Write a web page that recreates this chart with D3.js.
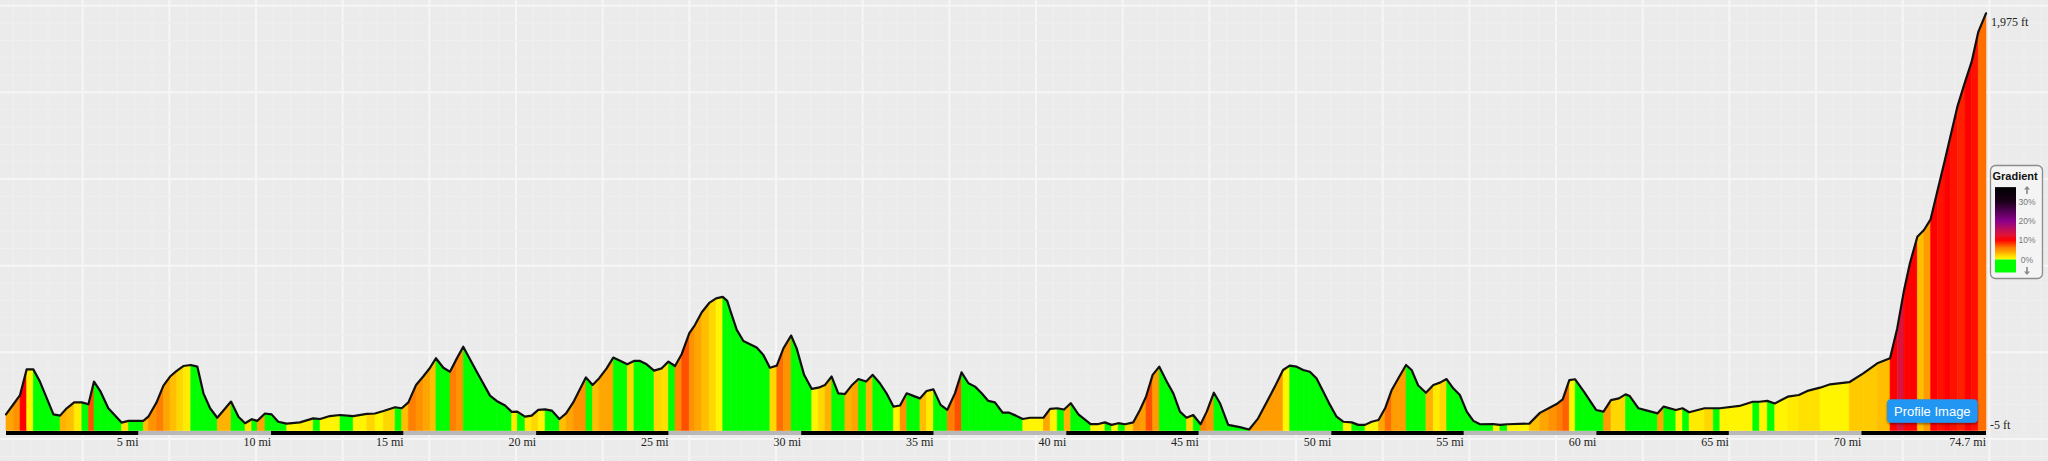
<!DOCTYPE html>
<html><head><meta charset="utf-8">
<script src="https://cdn.jsdelivr.net/npm/d3@7"></script>
<style>html,body{margin:0;padding:0;background:#ebebeb;overflow:hidden}</style>
</head><body>
<svg id="c" width="2048" height="461"></svg>
<script>
// distance along route (miles)
const miles = [
0.00,0.28,0.53,0.78,1.03,1.28,1.79,2.04,2.29,2.57,
2.86,3.11,3.32,3.57,3.86,4.36,4.62,5.18,5.37,5.68,
5.94,6.19,6.44,6.69,6.97,7.22,7.45,7.70,7.97,8.49,
8.77,9.02,9.27,9.48,9.77,10.02,10.27,10.59,11.09,11.59,
11.85,12.22,12.60,13.10,13.61,13.92,14.24,14.68,14.93,15.18,
15.47,15.74,16.00,16.22,16.50,16.75,17.00,17.25,17.76,18.26,
18.51,18.83,19.08,19.29,19.58,19.83,20.08,20.34,20.59,20.88,
21.13,21.40,21.88,22.13,22.38,22.66,22.91,23.44,23.69,23.92,
24.17,24.45,24.74,24.99,25.24,25.49,25.78,25.99,26.25,26.53,
26.79,27.04,27.21,27.34,27.57,27.82,28.32,28.57,28.82,29.08,
29.33,29.62,29.83,30.11,30.40,30.65,30.90,31.15,31.40,31.65,
31.90,32.16,32.45,32.70,32.97,33.22,33.48,33.73,33.98,34.23,
34.48,34.73,34.99,35.26,35.51,35.80,36.05,36.31,36.56,36.81,
37.06,37.31,37.60,37.85,38.10,38.36,38.63,39.14,39.39,39.66,
39.92,40.17,40.46,40.92,41.21,41.46,41.71,41.96,42.22,42.53,
42.78,43.01,43.26,43.51,43.79,44.04,44.29,44.54,44.79,45.07,
45.30,45.57,45.80,46.11,46.55,46.90,47.24,47.87,48.18,48.43,
48.69,48.94,49.19,49.44,49.70,49.95,50.20,50.45,50.77,51.02,
51.27,51.52,51.78,52.03,52.28,52.53,52.82,53.03,53.28,53.57,
53.85,54.10,54.35,54.60,54.85,55.11,55.36,55.61,56.11,56.36,
56.64,57.47,57.87,58.20,58.50,58.73,58.98,59.20,59.53,59.99,
60.27,60.55,60.85,61.10,61.26,61.59,61.92,62.31,62.54,63.00,
63.25,63.50,64.08,64.41,64.66,65.40,65.90,66.15,66.45,66.73,
67.22,67.64,68.00,68.44,68.82,69.54,70.07,70.60,71.08,71.35,
71.61,71.83,72.11,72.36,72.61,72.86,73.12,73.37,73.62,73.91,
74.16,74.41,74.70
];
// elevation (feet)
const elevFt = [
67,115,159,281,281,223,67,61,96,124,
124,115,223,175,96,28,36,36,56,124,
204,247,274,297,302,294,167,96,51,128,
56,25,44,36,71,67,32,23,29,48,
45,59,64,59,69,71,83,101,96,124,
207,247,289,334,289,270,331,389,270,156,
131,109,79,80,56,61,88,91,85,45,
72,124,243,207,239,286,337,305,321,321,
305,275,286,318,297,353,453,492,553,597,
619,626,607,556,469,416,385,350,289,299,
381,442,381,255,188,194,207,247,167,164,
204,235,223,255,215,167,104,109,167,155,
143,178,186,112,88,167,267,215,199,167,
131,124,75,75,61,45,51,51,93,96,
90,120,67,21,21,29,17,25,20,29,
88,151,255,294,223,167,80,51,64,20,
80,170,120,17,6,-5,48,199,278,299,
294,278,270,239,175,112,56,32,29,17,
17,32,40,96,183,239,302,278,204,170,
207,218,235,191,159,80,36,20,21,17,
20,23,74,96,116,138,230,234,175,88,
80,135,143,162,154,96,85,72,104,88,
96,77,96,96,96,107,127,127,131,119,
151,159,180,194,210,220,262,310,334,476,
659,786,912,944,995,1126,1261,1396,1531,1649,
1745,1887,1975
];
// grade (%) of each segment, from point i to point i+1
const gradePct = [
4,5,10,0.5,-2,-2,-2,3.5,3,1,
-2,7.5,-2,-2,-2,1.5,-2,3,5,6,
4,3,2,1,-2,-2,-2,-2,3.5,-2,
-2,1.5,-2,4,-2,-2,-2,0.5,1,-2,
0.5,0.5,-2,0.5,2,0.5,2,-2,3,6,
5,4,3,-2,-2,6,5,-2,-2,-2,
-2,-2,1,-2,1,2,0.5,-2,-2,3,
4,5,-2,3,4,4,-2,2,-2,-2,
-2,2,1.5,-2,5.5,7.5,5,4,3,2,
0.5,-2,-2,-2,-2,-2,-2,-2,2,6.5,
5,-2,-2,-2,0.5,2,3.5,-2,-2,3.5,
4,-2,3.5,-2,-2,-2,0.5,5,-2,-2,
3,1,-2,-2,6,7.5,-2,-2,-2,-2,
-2,-2,-2,-2,-2,0.5,0.5,4,0.5,-2,
3.5,-2,-2,0.5,0.5,-2,0.5,-2,2,5,
4.5,7.5,4.5,-2,-2,-2,-2,2,-2,6,
5,-2,-2,-2,-2,4.5,4.5,4.5,0.5,-2,
-2,-2,-2,-2,-2,-2,-2,0.5,-2,-2,
0.5,0.5,4,6.5,4.5,4.5,-2,-2,-2,3.5,
1,2,-2,-2,-2,-2,-2,-2,0.5,-2,
0.5,3,4,5,6,7,0.5,-2,-2,-2,
4.5,2,2,-2,-2,-2,-2,4,-2,0.5,
-2,1,2,-2,0.5,0.5,-2,0.5,-2,0.5,
1,1.5,1.5,0.5,0.5,2.5,2.5,3,10,13,
10,10,3,4.5,10,9.5,10,9.5,9,10,
9.5,6.5
];
const tickMiles = [5,10,15,20,25,30,35,40,45,50,55,60,65,70];
const legendTicks = [30,20,10,0];
const gradeStops = [0,2,4,6,8,10,13,20,30,38];
const gradeColors = ['#ffff00','#ffd700','#ffa500','#ff7f00','#ff4000','#ff0000','#dc143c','#8b008b','#1a001a','#000000'];

const W = 2048, H = 461;
const svg = d3.select('#c');

// background + grid
svg.append('rect').attr('width', W).attr('height', H).attr('fill', '#ebebeb');
const major = 86.667, minor = major / 5;
const grid = svg.append('g');
for (let i = 0; ; i++) {
  const gx = -4 + i * minor;
  if (gx > W) break;
  if (gx < 0) continue;
  const isMaj = i % 5 === 0;
  grid.append('line').attr('x1', gx).attr('x2', gx).attr('y1', 0).attr('y2', H)
    .attr('stroke', isMaj ? '#f6f6f6' : '#efefef').attr('stroke-width', isMaj ? 2 : 1);
}
for (let i = 0; ; i++) {
  const gy = 5.7 + i * minor;
  if (gy > H) break;
  const isMaj = i % 5 === 0;
  grid.append('line').attr('y1', gy).attr('y2', gy).attr('x1', 0).attr('x2', W)
    .attr('stroke', isMaj ? '#f6f6f6' : '#efefef').attr('stroke-width', isMaj ? 2 : 1);
}

const maxMi = d3.max(miles);
const x = d3.scaleLinear().domain([0, maxMi]).range([6, 1986]);
const y = d3.scaleLinear().domain([d3.min(elevFt), d3.max(elevFt)]).range([429.5, 13.3]);
const baseY = y(d3.min(elevFt)) + 1;

const gradeScale = d3.scaleLinear().domain(gradeStops).range(gradeColors).clamp(true);
const colorFor = g => g < 0 ? '#00ff00' : gradeScale(g);

// colored segments
const segs = svg.append('g');
for (let i = 0; i < miles.length - 1; i++) {
  const x0 = x(miles[i]), x1 = x(miles[i + 1]);
  const c = colorFor(gradePct[i] ?? 0);
  segs.append('path')
    .attr('d', `M${x0},${baseY}L${x0},${y(elevFt[i])}L${x1},${y(elevFt[i+1])}L${x1},${baseY}Z`)
    .attr('fill', c).attr('stroke', c).attr('stroke-width', 0.6);
}

// profile line
const pts = miles.map((m, i) => [m, elevFt[i]]);
svg.append('path')
  .attr('d', d3.line().x(d => x(d[0])).y(d => y(d[1]))(pts))
  .attr('fill', 'none').attr('stroke', '#111').attr('stroke-width', 2.2)
  .attr('stroke-linejoin', 'round').attr('stroke-linecap', 'round');

// distance bar
const bar = svg.append('g');
for (let k = 0; k * 5 < maxMi; k++) {
  const a = k * 5, b = Math.min(a + 5, maxMi);
  bar.append('rect').attr('x', x(a)).attr('y', 431).attr('width', x(b) - x(a)).attr('height', 4)
    .attr('fill', k % 2 === 0 ? '#000' : '#b8b8b8');
}
const lbl = svg.append('g').attr('font-family', '"Liberation Serif", "Times New Roman", serif')
  .attr('font-size', 12).attr('fill', '#222');
tickMiles.forEach(t => {
  lbl.append('text').attr('x', x(t)).attr('y', 446).attr('text-anchor', 'end').text(t + ' mi');
});
lbl.append('text').attr('x', x(maxMi)).attr('y', 446).attr('text-anchor', 'end').text(maxMi + ' mi');
lbl.append('text').attr('x', x(maxMi) + 5).attr('y', 26).text(d3.format(',')(d3.max(elevFt)) + ' ft');
lbl.append('text').attr('x', x(maxMi) + 4).attr('y', 428.5).text(d3.min(elevFt) + ' ft');

// legend
const defs = svg.append('defs');
const lg = defs.append('linearGradient').attr('id', 'gg').attr('x1', 0).attr('x2', 0).attr('y1', 1).attr('y2', 0);
gradeStops.forEach((g, i) => lg.append('stop').attr('offset', g / 37.5).attr('stop-color', gradeColors[i]));
const sh = defs.append('filter').attr('id', 'sh').attr('x', '-20%').attr('y', '-30%').attr('width', '140%').attr('height', '180%');
sh.append('feDropShadow').attr('dx', 0).attr('dy', 1.5).attr('stdDeviation', 1.2).attr('flood-color', '#000').attr('flood-opacity', 0.45);

const leg = svg.append('g');
leg.append('rect').attr('x', 1990.5).attr('y', 165.5).attr('width', 52).attr('height', 113).attr('rx', 5)
  .attr('fill', '#f4f4f4').attr('stroke', '#8c8c8c').attr('stroke-width', 1.3);
leg.append('text').attr('x', 1992.5).attr('y', 180).attr('font-family', '"Liberation Sans", Arial, sans-serif')
  .attr('font-size', 11).attr('font-weight', 'bold').attr('fill', '#111').text('Gradient');
const ly = g => 259.5 - g * 1.93;
leg.append('rect').attr('x', 1995).attr('y', ly(37.5)).attr('width', 21).attr('height', ly(0) - ly(37.5)).attr('fill', 'url(#gg)');
leg.append('rect').attr('x', 1995).attr('y', ly(0)).attr('width', 21).attr('height', 13).attr('fill', '#00ff00');
legendTicks.forEach(t => {
  leg.append('text').attr('x', 2027).attr('y', ly(t) + 3).attr('text-anchor', 'middle')
    .attr('font-family', '"Liberation Sans", Arial, sans-serif').attr('font-size', 8.5).attr('fill', '#777').text(t + '%');
});
leg.append('path').attr('d', 'M2026.2,194L2026.2,189.5L2024,189.5L2027,186L2030,189.5L2027.8,189.5L2027.8,194Z').attr('fill', '#888');
leg.append('path').attr('d', 'M2026.2,267L2026.2,271.5L2024,271.5L2027,275L2030,271.5L2027.8,271.5L2027.8,267Z').attr('fill', '#888');

// button
const btn = svg.append('g');
btn.append('rect').attr('x', 1887).attr('y', 399.3).attr('width', 90.7).attr('height', 23.4).attr('rx', 4)
  .attr('fill', '#2196f3').attr('filter', 'url(#sh)');
btn.append('text').attr('x', 1932.3).attr('y', 415.6).attr('text-anchor', 'middle')
  .attr('font-family', '"Liberation Sans", Arial, sans-serif').attr('font-size', 13).attr('fill', '#fff').text('Profile Image');
</script>
</body></html>
